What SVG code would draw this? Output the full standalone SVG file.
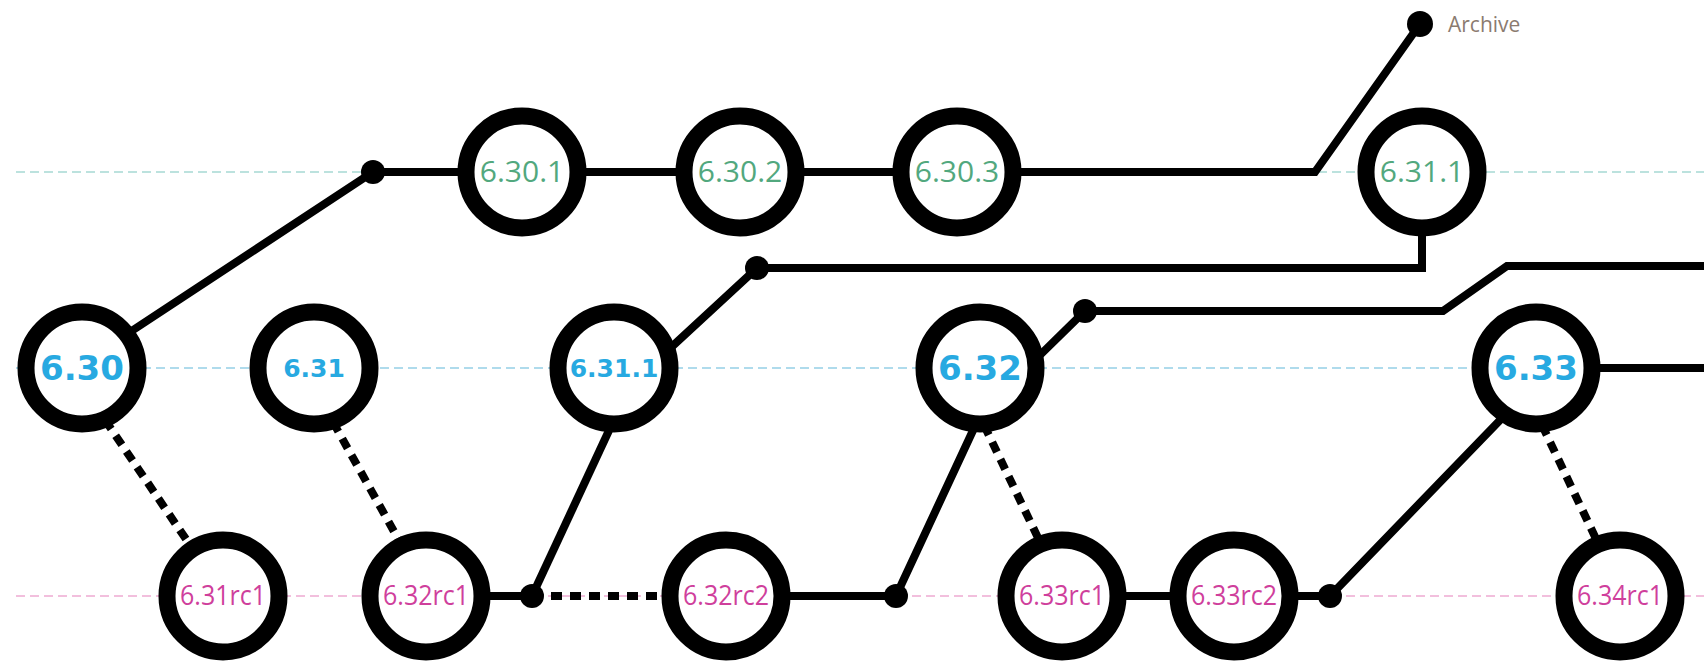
<svg xmlns="http://www.w3.org/2000/svg" width="1704" height="661" viewBox="0 0 1704 661">
<style>
.bg{fill:#ffffff}
.guide{stroke-width:1.6;stroke-dasharray:9 5;fill:none}
.g-top{stroke:#a6d9d3}
.g-mid{stroke:#95cfe6}
.g-bot{stroke:#eeaad2}
.conn{stroke:#000;stroke-width:8;fill:none;stroke-linejoin:miter}
.dot{stroke:#000;stroke-width:8;fill:none;stroke-dasharray:11 8}
.ring{fill:#fff;stroke:#000;stroke-width:17}
.jn{fill:#000}
.lg{font-family:"Open Sans","Noto Sans",sans-serif;font-size:30px;fill:#52a87e;text-anchor:middle}
.lb{font-family:"DejaVu Sans","Liberation Sans",sans-serif;font-weight:bold;font-size:34px;fill:#27a9e1;text-anchor:middle}
.lbs{font-family:"DejaVu Sans","Liberation Sans",sans-serif;font-weight:bold;font-size:25px;fill:#27a9e1;text-anchor:middle}
.lm{font-family:"Open Sans","Noto Sans",sans-serif;font-size:27px;fill:#cf3f9c;text-anchor:middle}
.la{font-family:"Open Sans","Noto Sans",sans-serif;font-size:21px;fill:#8b7b70}
</style>
<rect class="bg" x="0" y="0" width="1704" height="661"/>
<g id="guides">
<line class="guide g-top" x1="16" y1="172" x2="1704" y2="172"/>
<line class="guide g-mid" x1="16" y1="368" x2="1704" y2="368"/>
<line class="guide g-bot" x1="16" y1="596" x2="1704" y2="596"/>
</g>
<g id="connectors">
<polyline class="conn" points="127,334 373,172 1315,172 1420,24"/>
<polyline class="conn" points="1422,172 1422,268 757,268 665,353"/>
<line class="conn" x1="532" y1="596" x2="612" y2="424"/>
<line class="conn" x1="426" y1="596" x2="532" y2="596"/>
<line class="dot" x1="532" y1="596" x2="726" y2="596"/>
<polyline class="conn" points="726,596 896,596 976,424"/>
<polyline class="conn" points="1036,359 1085,311 1443,311 1507,266 1704,266"/>
<polyline class="conn" points="1062,596 1330,596 1505,415"/>
<line class="conn" x1="1536" y1="368" x2="1704" y2="368"/>
<line class="dot" x1="105" y1="420" x2="192" y2="548"/>
<line class="dot" x1="333" y1="422" x2="401" y2="544"/>
<line class="dot" x1="984" y1="425" x2="1040" y2="542"/>
<line class="dot" x1="1542" y1="425" x2="1598" y2="543"/>
<circle class="jn" cx="373" cy="172" r="12"/>
<circle class="jn" cx="1420" cy="24" r="13"/>
<circle class="jn" cx="757" cy="268" r="12"/>
<circle class="jn" cx="1085" cy="311" r="12"/>
<circle class="jn" cx="532" cy="596" r="12"/>
<circle class="jn" cx="896" cy="596" r="12"/>
<circle class="jn" cx="1330" cy="596" r="12"/>
</g>
<g id="archive"><text class="la" x="1448" y="32">Archive</text></g>
<g id="n6301"><circle class="ring" cx="522" cy="172" r="56"/><text class="lg" x="522" y="182">6.30.1</text></g>
<g id="n6302"><circle class="ring" cx="740" cy="172" r="56"/><text class="lg" x="740" y="182">6.30.2</text></g>
<g id="n6303"><circle class="ring" cx="957" cy="172" r="56"/><text class="lg" x="957" y="182">6.30.3</text></g>
<g id="n6311g"><circle class="ring" cx="1422" cy="172" r="56"/><text class="lg" x="1422" y="182">6.31.1</text></g>
<g id="n630"><circle class="ring" cx="82" cy="368" r="56"/><text class="lb" x="82" y="380">6.30</text></g>
<g id="n631"><circle class="ring" cx="314" cy="368" r="56"/><text class="lbs" x="314" y="377">6.31</text></g>
<g id="n6311"><circle class="ring" cx="614" cy="368" r="56"/><text class="lbs" x="614" y="377">6.31.1</text></g>
<g id="n632"><circle class="ring" cx="980" cy="368" r="56"/><text class="lb" x="980" y="380">6.32</text></g>
<g id="n633"><circle class="ring" cx="1536" cy="368" r="56"/><text class="lb" x="1536" y="380">6.33</text></g>
<g id="n631rc1"><circle class="ring" cx="223" cy="596" r="56"/><text class="lm" x="223" y="605" textLength="86" lengthAdjust="spacingAndGlyphs">6.31rc1</text></g>
<g id="n632rc1"><circle class="ring" cx="426" cy="596" r="56"/><text class="lm" x="426" y="605" textLength="86" lengthAdjust="spacingAndGlyphs">6.32rc1</text></g>
<g id="n632rc2"><circle class="ring" cx="726" cy="596" r="56"/><text class="lm" x="726" y="605" textLength="86" lengthAdjust="spacingAndGlyphs">6.32rc2</text></g>
<g id="n633rc1"><circle class="ring" cx="1062" cy="596" r="56"/><text class="lm" x="1062" y="605" textLength="86" lengthAdjust="spacingAndGlyphs">6.33rc1</text></g>
<g id="n633rc2"><circle class="ring" cx="1234" cy="596" r="56"/><text class="lm" x="1234" y="605" textLength="86" lengthAdjust="spacingAndGlyphs">6.33rc2</text></g>
<g id="n634rc1"><circle class="ring" cx="1620" cy="596" r="56"/><text class="lm" x="1620" y="605" textLength="86" lengthAdjust="spacingAndGlyphs">6.34rc1</text></g>
</svg>
